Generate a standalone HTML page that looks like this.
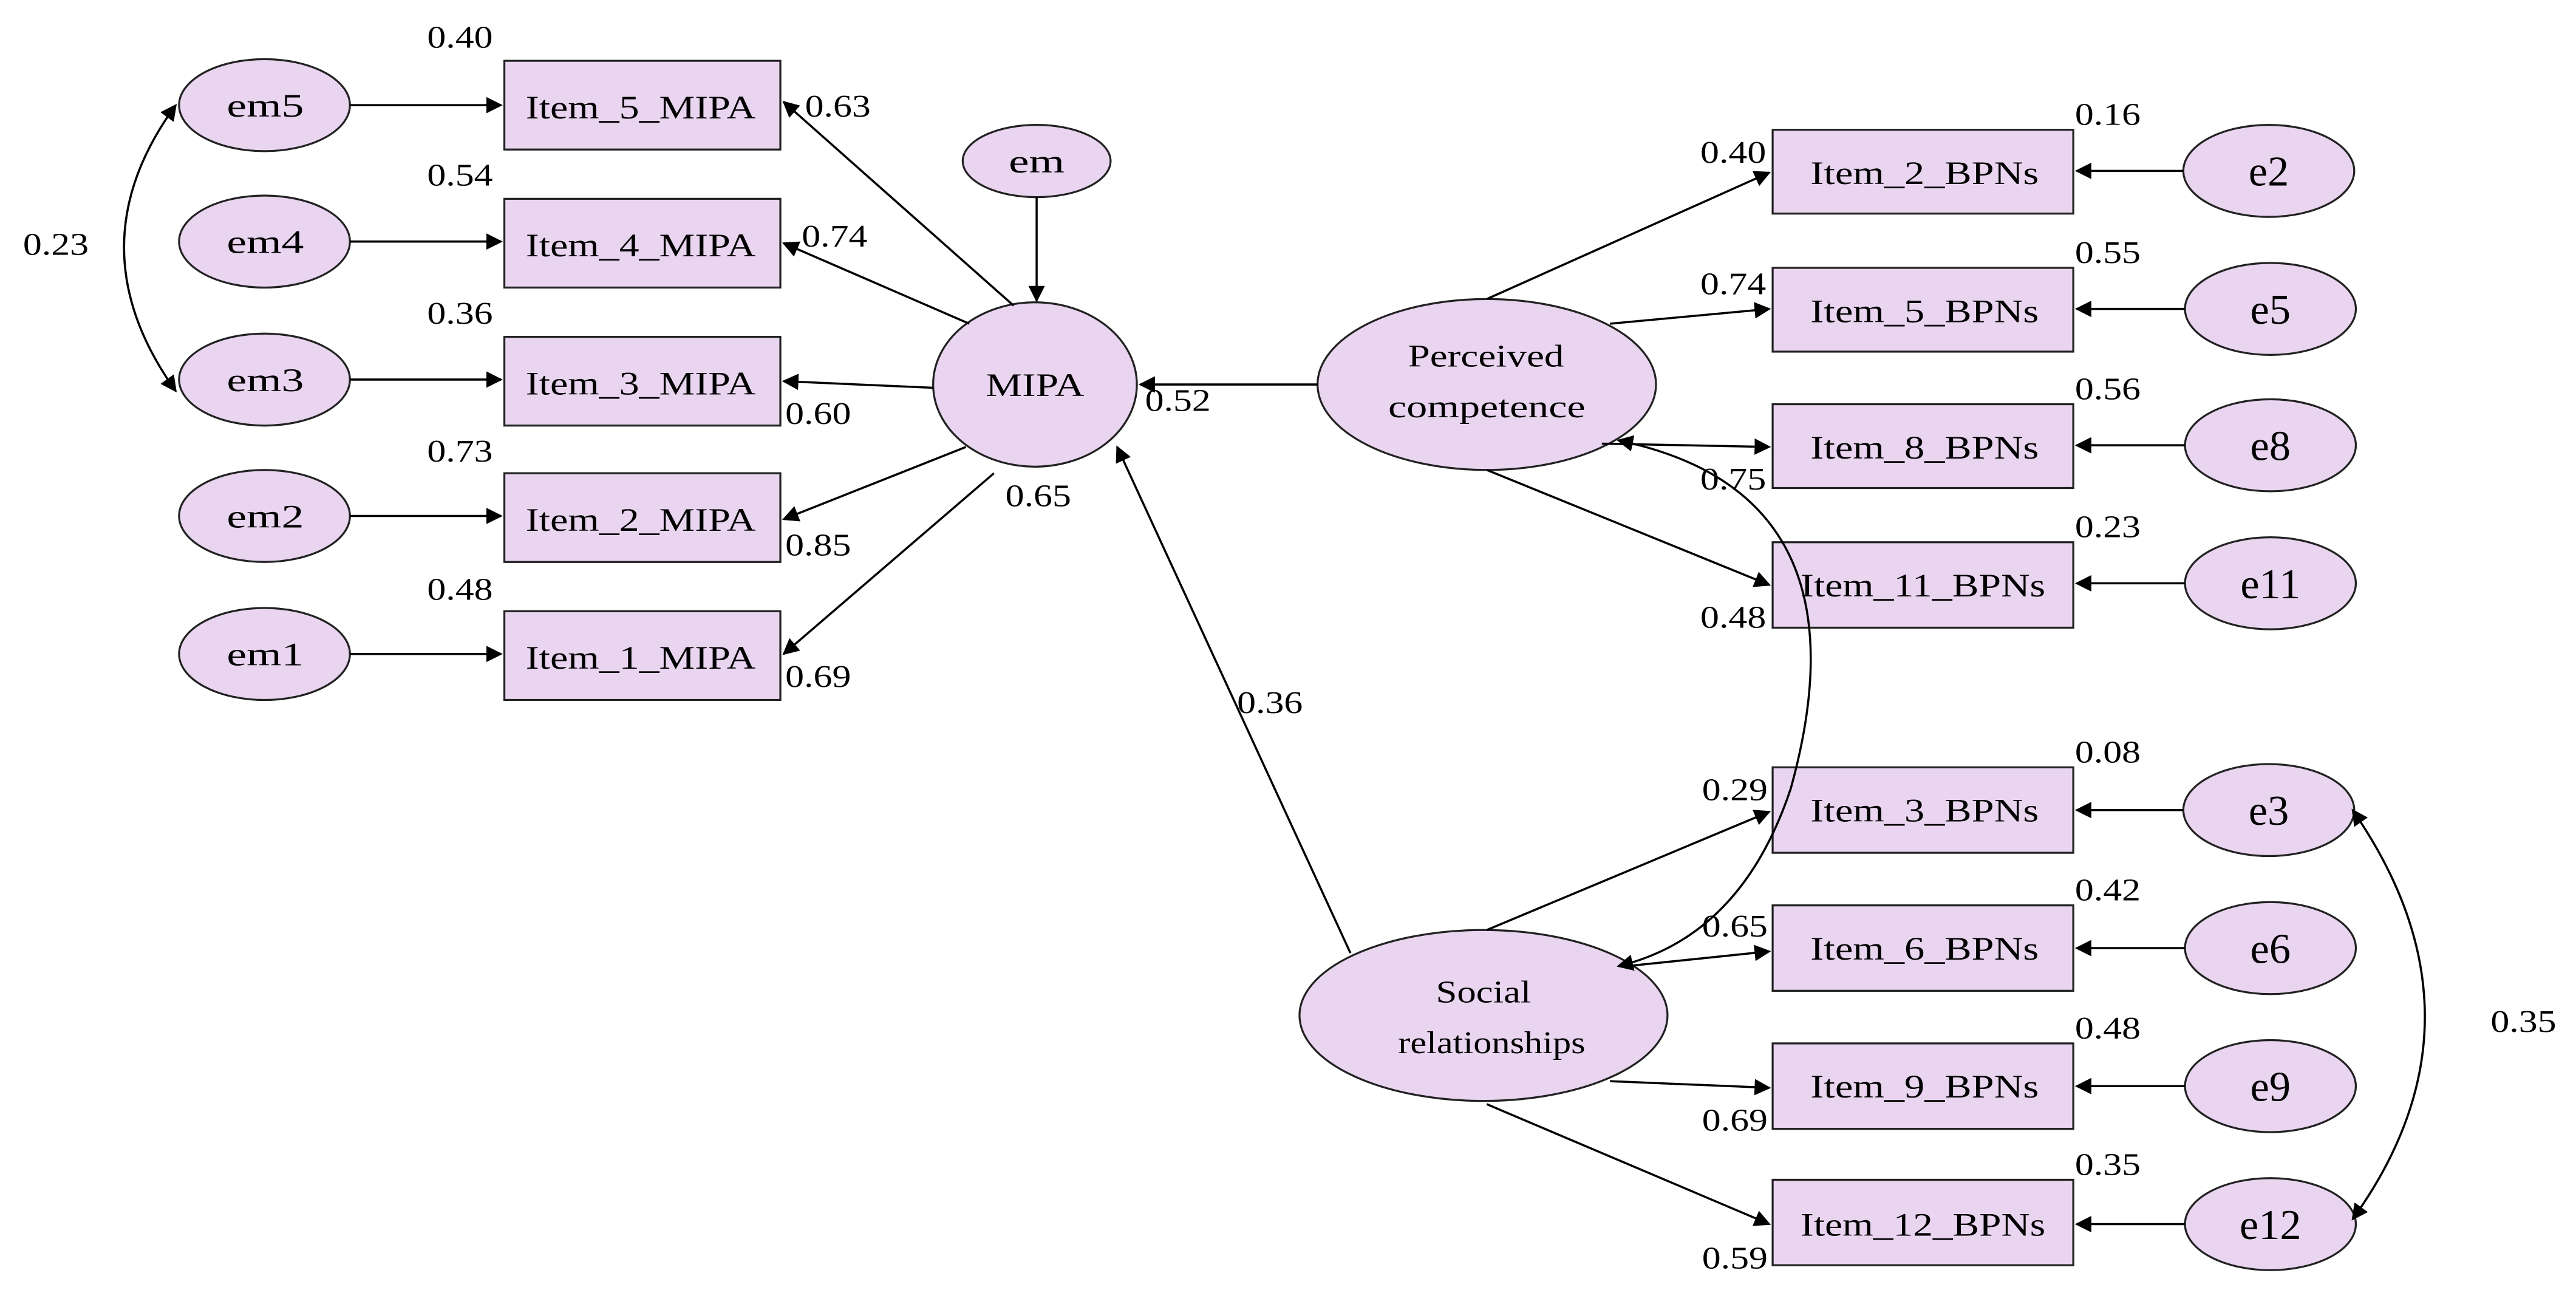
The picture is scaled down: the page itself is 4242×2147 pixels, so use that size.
<!DOCTYPE html>
<html><head><meta charset="utf-8"><style>html,body{margin:0;padding:0;background:#fff}svg{display:block}</style></head><body>
<svg width="4242" height="2147" viewBox="0 0 1568 793.6" preserveAspectRatio="none" xmlns="http://www.w3.org/2000/svg" font-family="Liberation Serif, serif">
<defs><marker id="a" markerWidth="10" markerHeight="10" refX="9" refY="5" orient="auto-start-reverse" markerUnits="userSpaceOnUse"><path d="M0,0 L10,5 L0,10 z" fill="#000"/></marker></defs>
<g fill="#e9d5f0" stroke="#222" stroke-width="1.2">
<ellipse cx="161" cy="64" rx="52" ry="28"/><ellipse cx="161" cy="147" rx="52" ry="28"/><ellipse cx="161" cy="231" rx="52" ry="28"/><ellipse cx="161" cy="314" rx="52" ry="28"/><ellipse cx="161" cy="398" rx="52" ry="28"/>
<rect x="307" y="37" width="168" height="54"/><rect x="307" y="121" width="168" height="54"/><rect x="307" y="205" width="168" height="54"/><rect x="307" y="288" width="168" height="54"/><rect x="307" y="372" width="168" height="54"/>
<ellipse cx="631" cy="98" rx="45" ry="22"/><ellipse cx="630" cy="234" rx="62" ry="50"/>
<ellipse cx="905" cy="234" rx="103" ry="52"/><ellipse cx="903" cy="618" rx="112" ry="52"/>
<rect x="1079" y="79" width="183" height="51"/><rect x="1079" y="163" width="183" height="51"/><rect x="1079" y="246" width="183" height="51"/><rect x="1079" y="330" width="183" height="52"/>
<rect x="1079" y="467" width="183" height="52"/><rect x="1079" y="551" width="183" height="52"/><rect x="1079" y="635" width="183" height="52"/><rect x="1079" y="718" width="183" height="52"/>
<ellipse cx="1381" cy="104" rx="52" ry="28"/><ellipse cx="1382" cy="188" rx="52" ry="28"/><ellipse cx="1382" cy="271" rx="52" ry="28"/><ellipse cx="1382" cy="355" rx="52" ry="28"/>
<ellipse cx="1381" cy="493" rx="52" ry="28"/><ellipse cx="1382" cy="577" rx="52" ry="28"/><ellipse cx="1382" cy="661" rx="52" ry="28"/><ellipse cx="1382" cy="745" rx="52" ry="28"/>
</g>
<g stroke="#000" stroke-width="1.3" fill="none" marker-end="url(#a)">
<line x1="213" y1="64" x2="305" y2="64"/><line x1="213" y1="147" x2="305" y2="147"/><line x1="213" y1="231" x2="305" y2="231"/><line x1="213" y1="314" x2="305" y2="314"/><line x1="213" y1="398" x2="305" y2="398"/>
<line x1="631" y1="120" x2="631" y2="183"/>
<line x1="617" y1="186" x2="477" y2="62"/><line x1="590" y1="197" x2="477" y2="148"/><line x1="568" y1="236" x2="477" y2="232"/><line x1="588" y1="272" x2="477" y2="316"/><line x1="605" y1="288" x2="477" y2="398"/>
<line x1="802" y1="234" x2="694" y2="234"/>
<line x1="822" y1="580" x2="680" y2="272"/>
<line x1="905" y1="182" x2="1077" y2="105"/><line x1="980" y1="197" x2="1077" y2="188"/><line x1="975" y1="270" x2="1077" y2="272"/><line x1="905" y1="286" x2="1077" y2="356"/>
<line x1="905" y1="566" x2="1077" y2="494"/><line x1="990" y1="588" x2="1077" y2="579"/><line x1="980" y1="658" x2="1077" y2="662"/><line x1="905" y1="672" x2="1077" y2="745"/>
<line x1="1329" y1="104" x2="1264" y2="104"/><line x1="1330" y1="188" x2="1264" y2="188"/><line x1="1330" y1="271" x2="1264" y2="271"/><line x1="1330" y1="355" x2="1264" y2="355"/>
<line x1="1329" y1="493" x2="1264" y2="493"/><line x1="1330" y1="577" x2="1264" y2="577"/><line x1="1330" y1="661" x2="1264" y2="661"/><line x1="1330" y1="745" x2="1264" y2="745"/>
<path d="M107,64 Q44,150 107,238" marker-start="url(#a)"/>
<path d="M985,268 Q1140,300 1090,480 Q1060,570 985,588" marker-start="url(#a)"/>
<path d="M1432,493 Q1520,620 1432,742" marker-start="url(#a)"/>
</g>
<g font-size="20" fill="#000" lengthAdjust="spacingAndGlyphs">
<text x="320" y="72" textLength="140" lengthAdjust="spacingAndGlyphs">Item_5_MIPA</text><text x="320" y="156" textLength="140" lengthAdjust="spacingAndGlyphs">Item_4_MIPA</text><text x="320" y="240" textLength="140" lengthAdjust="spacingAndGlyphs">Item_3_MIPA</text><text x="320" y="323" textLength="140" lengthAdjust="spacingAndGlyphs">Item_2_MIPA</text><text x="320" y="407" textLength="140" lengthAdjust="spacingAndGlyphs">Item_1_MIPA</text>
<text x="138" y="71" textLength="47" lengthAdjust="spacingAndGlyphs">em5</text><text x="138" y="154" textLength="47" lengthAdjust="spacingAndGlyphs">em4</text><text x="138" y="238" textLength="47" lengthAdjust="spacingAndGlyphs">em3</text><text x="138" y="321" textLength="47" lengthAdjust="spacingAndGlyphs">em2</text><text x="138" y="405" textLength="47" lengthAdjust="spacingAndGlyphs">em1</text>
<text x="614" y="105" textLength="34" lengthAdjust="spacingAndGlyphs">em</text><text x="600" y="241" textLength="60" lengthAdjust="spacingAndGlyphs">MIPA</text>
<text x="857" y="223" font-size="19" textLength="95" lengthAdjust="spacingAndGlyphs">Perceived</text><text x="845" y="254" font-size="19" textLength="120" lengthAdjust="spacingAndGlyphs">competence</text>
<text x="874" y="610" font-size="19" textLength="58" lengthAdjust="spacingAndGlyphs">Social</text><text x="851" y="641" font-size="19" textLength="114" lengthAdjust="spacingAndGlyphs">relationships</text>
<text x="1102" y="112" textLength="139" lengthAdjust="spacingAndGlyphs">Item_2_BPNs</text><text x="1102" y="196" textLength="139" lengthAdjust="spacingAndGlyphs">Item_5_BPNs</text><text x="1102" y="279" textLength="139" lengthAdjust="spacingAndGlyphs">Item_8_BPNs</text><text x="1096" y="363" textLength="149" lengthAdjust="spacingAndGlyphs">Item_11_BPNs</text>
<text x="1102" y="500" textLength="139" lengthAdjust="spacingAndGlyphs">Item_3_BPNs</text><text x="1102" y="584" textLength="139" lengthAdjust="spacingAndGlyphs">Item_6_BPNs</text><text x="1102" y="668" textLength="139" lengthAdjust="spacingAndGlyphs">Item_9_BPNs</text><text x="1096" y="752" textLength="149" lengthAdjust="spacingAndGlyphs">Item_12_BPNs</text>
</g>
<g font-size="26" fill="#000" text-anchor="middle">
<text x="1381" y="113">e2</text><text x="1382" y="197">e5</text><text x="1382" y="280">e8</text><text x="1382" y="364">e11</text>
<text x="1381" y="502">e3</text><text x="1382" y="586">e6</text><text x="1382" y="670">e9</text><text x="1382" y="754">e12</text>
</g>
<g font-size="19" fill="#000">
<text x="260" y="29" textLength="40" lengthAdjust="spacingAndGlyphs">0.40</text><text x="260" y="113" textLength="40" lengthAdjust="spacingAndGlyphs">0.54</text><text x="260" y="197" textLength="40" lengthAdjust="spacingAndGlyphs">0.36</text><text x="260" y="281" textLength="40" lengthAdjust="spacingAndGlyphs">0.73</text><text x="260" y="365" textLength="40" lengthAdjust="spacingAndGlyphs">0.48</text>
<text x="14" y="155" textLength="40" lengthAdjust="spacingAndGlyphs">0.23</text>
<text x="490" y="71" textLength="40" lengthAdjust="spacingAndGlyphs">0.63</text><text x="488" y="150" textLength="40" lengthAdjust="spacingAndGlyphs">0.74</text><text x="478" y="258" textLength="40" lengthAdjust="spacingAndGlyphs">0.60</text><text x="478" y="338" textLength="40" lengthAdjust="spacingAndGlyphs">0.85</text><text x="478" y="418" textLength="40" lengthAdjust="spacingAndGlyphs">0.69</text>
<text x="612" y="308" textLength="40" lengthAdjust="spacingAndGlyphs">0.65</text><text x="697" y="250" textLength="40" lengthAdjust="spacingAndGlyphs">0.52</text><text x="753" y="434" textLength="40" lengthAdjust="spacingAndGlyphs">0.36</text>
<text x="1263" y="76" textLength="40" lengthAdjust="spacingAndGlyphs">0.16</text><text x="1263" y="160" textLength="40" lengthAdjust="spacingAndGlyphs">0.55</text><text x="1263" y="243" textLength="40" lengthAdjust="spacingAndGlyphs">0.56</text><text x="1263" y="327" textLength="40" lengthAdjust="spacingAndGlyphs">0.23</text>
<text x="1263" y="464" textLength="40" lengthAdjust="spacingAndGlyphs">0.08</text><text x="1263" y="548" textLength="40" lengthAdjust="spacingAndGlyphs">0.42</text><text x="1263" y="632" textLength="40" lengthAdjust="spacingAndGlyphs">0.48</text><text x="1263" y="715" textLength="40" lengthAdjust="spacingAndGlyphs">0.35</text>
<text x="1035" y="99" textLength="40" lengthAdjust="spacingAndGlyphs">0.40</text><text x="1035" y="179" textLength="40" lengthAdjust="spacingAndGlyphs">0.74</text><text x="1035" y="298" textLength="40" lengthAdjust="spacingAndGlyphs">0.75</text><text x="1035" y="382" textLength="40" lengthAdjust="spacingAndGlyphs">0.48</text>
<text x="1036" y="487" textLength="40" lengthAdjust="spacingAndGlyphs">0.29</text><text x="1036" y="570" textLength="40" lengthAdjust="spacingAndGlyphs">0.65</text><text x="1036" y="688" textLength="40" lengthAdjust="spacingAndGlyphs">0.69</text><text x="1036" y="772" textLength="40" lengthAdjust="spacingAndGlyphs">0.59</text>
<text x="1516" y="628" textLength="40" lengthAdjust="spacingAndGlyphs">0.35</text>
</g>
</svg>
</body></html>
